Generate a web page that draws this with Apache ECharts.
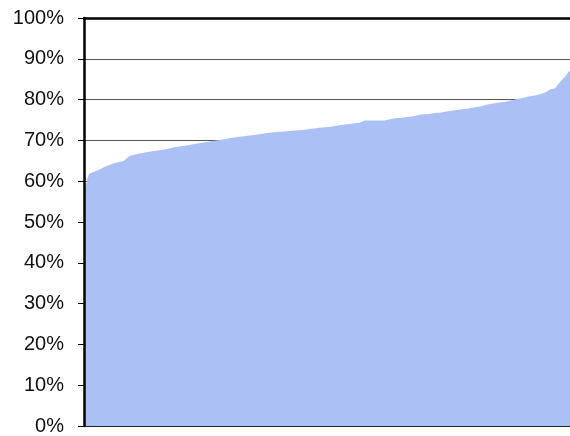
<!DOCTYPE html>
<html>
<head>
<meta charset="utf-8">
<script src="https://cdn.jsdelivr.net/npm/echarts@6/dist/echarts.min.js"></script>
<style>
  html, body { margin: 0; padding: 0; background: #fff; }
  #chart { width: 570px; height: 436px; }
</style>
</head>
<body>
<div id="chart"></div>
<script>
  // sorted share values (percent)
  var shares = [
    57.6, 61.8, 62.3, 62.8, 63.4, 64.0, 64.4, 64.7, 65.0, 66.1,
    66.5, 66.8, 67.0, 67.2, 67.4, 67.6, 67.8, 68.0, 68.3, 68.5,
    68.7, 68.9, 69.1, 69.3, 69.5, 69.7, 69.9, 70.1, 70.3, 70.5,
    70.7, 70.9, 71.0, 71.2, 71.3, 71.5, 71.7, 71.9, 72.0, 72.1,
    72.2, 72.3, 72.4, 72.5, 72.6, 72.8, 72.9, 73.1, 73.2, 73.3,
    73.5, 73.7, 73.9, 74.0, 74.2, 74.3, 74.9, 74.9, 74.9, 74.9,
    74.9, 75.2, 75.4, 75.5, 75.7, 75.8, 76.0, 76.3, 76.4, 76.5,
    76.7, 76.8, 77.0, 77.2, 77.4, 77.6, 77.7, 77.9, 78.1, 78.3,
    78.6, 78.9, 79.1, 79.3, 79.5, 79.7, 80.0, 80.3, 80.5, 80.8,
    81.0, 81.3, 81.7, 82.5, 82.8, 84.3, 85.6, 87.2
  ]
  var ranks = shares.map(function (v, i) { return i + 1 })
  var yTicks = [0, 10, 20, 30, 40, 50, 60, 70, 80, 90, 100]

  var chart = echarts.init(document.getElementById('chart'))
  var option = {
    animation: false,
    grid: { left: 84, right: 0, top: 18, bottom: 8 },
    xAxis: [
      {
        type: 'category',
        data: ranks,
        boundaryGap: false,
        axisLine: { lineStyle: { color: '#222', width: 1 } },
        axisTick: { show: false },
        axisLabel: { show: false },
        splitLine: { show: false }
      },
      {
        // thick frame line along the 100% level
        type: 'category',
        position: 'top',
        data: ranks,
        boundaryGap: false,
        z: 5,
        axisLine: { show: true, onZero: false, lineStyle: { color: '#000', width: 2.5 } },
        axisTick: { show: false },
        axisLabel: { show: false },
        splitLine: { show: false }
      }
    ],
    yAxis: [
      {
        type: 'value',
        min: yTicks[0],
        max: yTicks[yTicks.length - 1],
        interval: 10,
        axisLine: { show: false },
        axisTick: { show: false },
        axisLabel: { show: false },
        splitLine: { lineStyle: { color: '#555', width: 1 } }
      },
      {
        type: 'value',
        position: 'left',
        min: yTicks[0],
        max: yTicks[yTicks.length - 1],
        interval: 10,
        z: 5,
        axisLine: { show: true, onZero: false, lineStyle: { color: '#000', width: 2.5 } },
        axisTick: { show: true, length: 6, lineStyle: { color: '#000', width: 1 } },
        axisLabel: {
          margin: 20,
          color: '#111',
          fontSize: 20,
          fontFamily: '"Liberation Sans", Arial, sans-serif',
          formatter: '{value}%'
        },
        splitLine: { show: false }
      }
    ],
    series: [
      {
        type: 'line',
        data: shares,
        showSymbol: false,
        symbol: 'none',
        lineStyle: { width: 0 },
        areaStyle: { color: '#abc0f5', opacity: 1 }
      }
    ]
  }
  chart.setOption(option)
</script>
</body>
</html>
